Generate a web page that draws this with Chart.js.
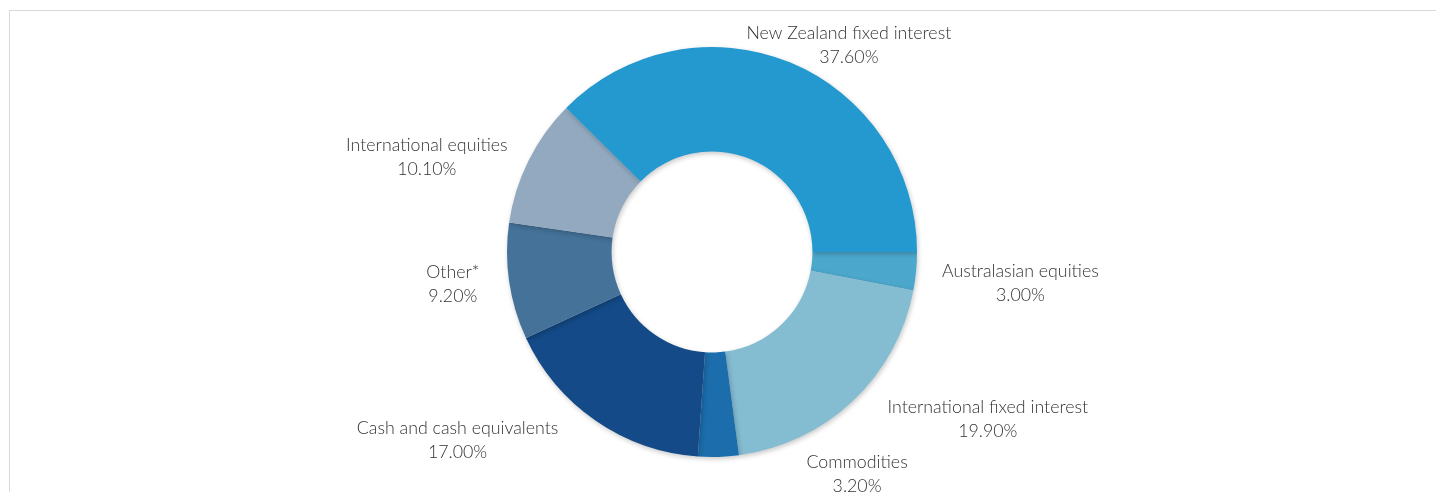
<!DOCTYPE html>
<html>
<head>
<meta charset="utf-8">
<script src="https://cdn.jsdelivr.net/npm/chart.js@4.4.1/dist/chart.umd.min.js"></script>
<style>
    html, body { margin: 0; padding: 0; background: #fff; overflow: hidden; }
    #frame { position: absolute; left: 9px; top: 10px; width: 1500px; height: 600px; border: 1px solid #d9d9d9; }
    #chart { position: absolute; left: 0; top: 0; }
</style>
</head>
<body>
<div id="frame"></div>
<canvas id="chart" width="1436" height="492"></canvas>
<script>
// asset allocation, clockwise from 3 o'clock
const categories = ['Australasian equities', 'International fixed interest', 'Commodities',
    'Cash and cash equivalents', 'Other*', 'International equities', 'New Zealand fixed interest'];
const shares = [3.0, 19.9, 3.2, 17.0, 9.2, 10.1, 37.6];
const sliceColors = ['#4ba7cb', '#84bcd2', '#1b6dac', '#134a87', '#457299', '#93a9bf', '#2399d0'];

// small per-label offsets so text sits where the original put it
const labelNudge = [
    {dx: 6, dy: 10}, {dx: 21, dy: 4}, {dx: 138, dy: -3}, {dx: -26, dy: 3},
    {dx: -10, dy: 0}, {dx: -3, dy: 6}, {dx: -51, dy: 1}
];

const FONT = '300 17.8px Lato, "Open Sans", sans-serif';
const LINE_H = 24;

const shadowPlugin = {
    id: 'softShadow',
    beforeDatasetsDraw(chart) {
        const ctx = chart.ctx;
        ctx.save();
        ctx.shadowColor = 'rgba(0,0,0,0.22)';
        ctx.shadowBlur = 5;
        ctx.shadowOffsetX = 1;
        ctx.shadowOffsetY = 2;
    },
    afterDatasetsDraw(chart) {
        chart.ctx.restore();
    }
};

const outsideLabels = {
    id: 'outsideLabels',
    afterDraw(chart) {
        const ctx = chart.ctx;
        const meta = chart.getDatasetMeta(0);
        ctx.save();
        ctx.font = FONT;
        ctx.fillStyle = '#333333';
        ctx.textAlign = 'center';
        ctx.textBaseline = 'middle';
        meta.data.forEach((arc, i) => {
            const p = arc.getProps(['x', 'y', 'startAngle', 'endAngle', 'outerRadius'], true);
            const mid = (p.startAngle + p.endAngle) / 2;
            const r = p.outerRadius + 20;
            const ax = p.x + Math.cos(mid) * r;
            const ay = p.y + Math.sin(mid) * r;
            const lines = [categories[i], shares[i].toFixed(2) + '%'];
            const w = Math.max(...lines.map(t => ctx.measureText(t).width));
            let cx = ax;
            const c = Math.cos(mid);
            if (c > 0.1) cx = ax + w / 2;
            else if (c < -0.1) cx = ax - w / 2;
            cx += labelNudge[i].dx;
            const cy = ay + labelNudge[i].dy;
            ctx.fillText(lines[0], cx, cy - LINE_H / 2);
            ctx.fillText(lines[1], cx, cy + LINE_H / 2);
        });
        ctx.restore();
    }
};

new Chart(document.getElementById('chart'), {
    type: 'doughnut',
    data: {
        labels: categories,
        datasets: [{
            data: shares,
            backgroundColor: sliceColors,
            borderWidth: 0
        }]
    },
    options: {
        responsive: false,
        animation: false,
        rotation: 90,
        cutout: '49%',
        layout: { padding: { top: 47, bottom: 35, left: 0, right: 12 } },
        plugins: {
            legend: { display: false },
            tooltip: { enabled: false }
        }
    },
    plugins: [shadowPlugin, outsideLabels]
});
</script>
</body>
</html>
